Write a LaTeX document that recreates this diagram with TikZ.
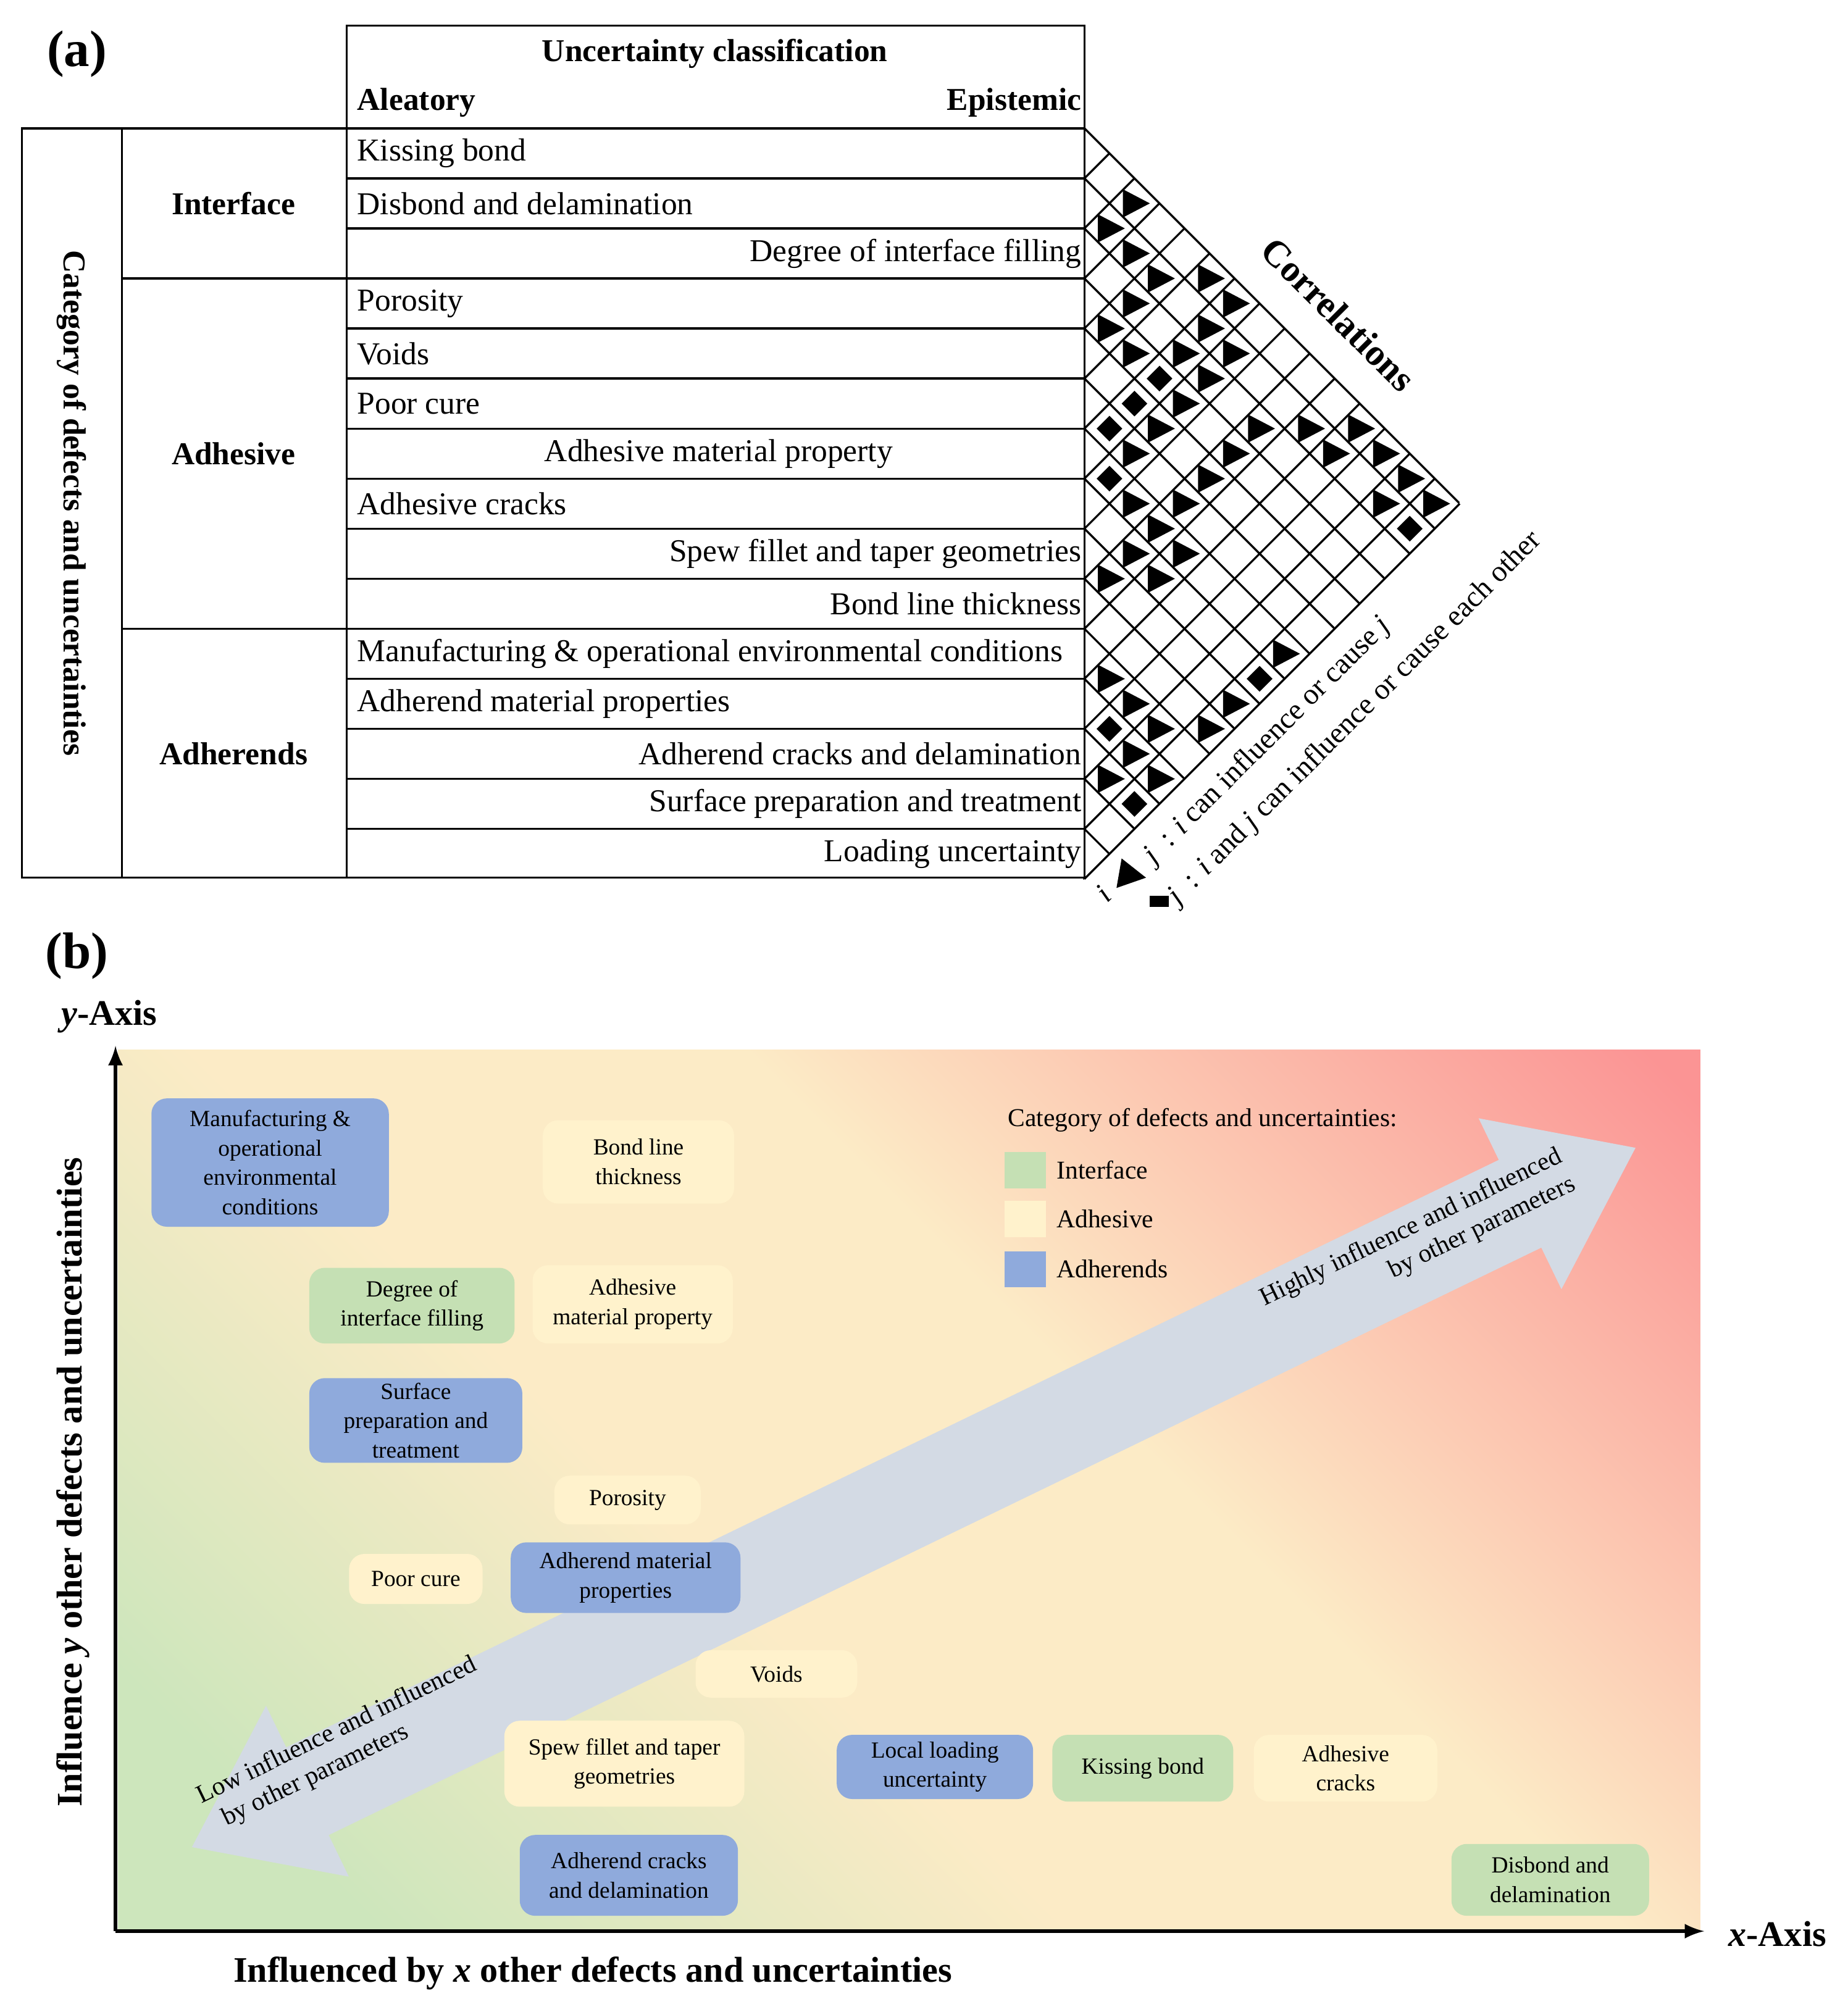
\documentclass[tikz,border=0pt]{standalone}
\usepackage{fontspec}
\setmainfont{Liberation Serif}
\definecolor{adherends}{HTML}{8FAADC}
\definecolor{interface}{HTML}{C5E0B4}
\definecolor{adhesive}{HTML}{FFF2CC}
\definecolor{bgA}{HTML}{CDE6BC}
\definecolor{bgB}{HTML}{FCEBC6}
\definecolor{bgC}{HTML}{FB9494}
\definecolor{arrowgray}{HTML}{D3DAE4}
\pgfdeclarehorizontalshading{bgshade}{100bp}{color(0bp)=(bgA); color(22bp)=(bgA); color(42bp)=(bgB); color(58bp)=(bgB); color(84bp)=(bgC); color(100bp)=(bgC)}
\begin{document}
\begin{tikzpicture}[x=0.5pt,y=-0.5pt]
\tikzstyle{row}=[font=\fontsize{12.4}{14}\selectfont,inner sep=0pt]
\tikzstyle{group}=[font=\fontsize{12.4}{14}\selectfont\bfseries,inner sep=0pt]
\tikzstyle{box}=[rounded corners=6pt,inner sep=1pt,align=center,font=\fontsize{9}{11.5}\selectfont]
\tikzstyle{swatch}=[minimum width=16pt,minimum height=14pt,inner sep=0pt]
\tikzstyle{legtext}=[font=\fontsize{10}{12}\selectfont,anchor=west,inner sep=0pt]
\tikzstyle{axislab}=[font=\fontsize{14}{16}\selectfont\bfseries]
\useasboundingbox (0,0) rectangle (1440,1568);

% (a) table
\node[font=\fontsize{20}{22}\selectfont\bfseries] (pa) at (60,42) {(a)};
\draw[line width=0.8pt] (270,20) rectangle (845,100);
\node[group] (uc) at (557,42) {Uncertainty classification};
\node[group,anchor=west] (alea) at (278,80) {Aleatory};
\node[group,anchor=east] (epis) at (843,80) {Epistemic};
\draw[line width=0.8pt] (17,100) rectangle (845,684);
\draw[line width=0.8pt] (95,100) -- (95,684) (270,100) -- (270,684);
\draw[line width=0.8pt] (95,217) -- (845,217) (95,490) -- (845,490);
\foreach \k in {1,...,14} \draw[line width=0.8pt] (270,{100+39*\k}) -- (845,{100+39*\k});
\node[group,rotate=-90] (cat) at (56,392) {Category of defects and uncertainties};
\node[group] (gint) at (182,158.5) {Interface};
\node[group] (gadh) at (182,353.5) {Adhesive};
\node[group] (gadr) at (182,587.5) {Adherends};
\node[row,anchor=west] (r1) at (278,119.5) {Kissing bond};
\node[row,anchor=west] (r2) at (278,158.5) {Disbond and delamination};
\node[row,anchor=east] (r3) at (843,197.5) {Degree of interface filling};
\node[row,anchor=west] (r4) at (278,236.5) {Porosity};
\node[row,anchor=west] (r5) at (278,275.5) {Voids};
\node[row,anchor=west] (r6) at (278,314.5) {Poor cure};
\node[row] (r7) at (560,353.5) {Adhesive material property};
\node[row,anchor=west] (r8) at (278,392.5) {Adhesive cracks};
\node[row,anchor=east] (r9) at (843,431.5) {Spew fillet and taper geometries};
\node[row,anchor=east] (r10) at (843,470.5) {Bond line thickness};
\node[row,anchor=west] (r11) at (278,509.5) {Manufacturing \& operational environmental conditions};
\node[row,anchor=west] (r12) at (278,548.5) {Adherend material properties};
\node[row,anchor=east] (r13) at (843,587.5) {Adherend cracks and delamination};
\node[row,anchor=east] (r14) at (843,626.5) {Surface preparation and treatment};
\node[row,anchor=east] (r15) at (843,665.5) {Loading uncertainty};

% correlation triangle
\foreach \k in {0,...,15} {
  \draw[line width=0.8pt] (845,{100+39*\k}) -- ++({(584-39*\k)/2},{(584-39*\k)/2});
  \draw[line width=0.8pt] (845,{100+39*\k}) -- ++({39*\k/2},{-39*\k/2});
}
\foreach \i/\j in {1/3,2/3,2/4,2/5,1/6,3/5,1/7,4/5,2/7,4/6,3/7,2/8,3/8,4/8,5/8,3/10,2/11,1/12,6/8,4/10,2/12,5/10,1/14,7/9,6/10,1/13,2/14,1/15,7/10,8/10,7/11,9/10,8/11,7/15,11/12,11/13,9/15,11/14,10/15,12/14,13/14,12/15}
  \fill ({845+(\j-\i)*19.5},{100+19.5*(\i+\j-1)}) ++(-9,-11) -- ++(21,11) -- ++(-21,11) -- cycle;
\foreach \i/\j in {4/7,5/7,6/7,7/8,2/15,8/15,12/13,13/15}
  \fill ({845+(\j-\i)*19.5},{100+19.5*(\i+\j-1)}) ++(-10,0) -- ++(10,-10) -- ++(10,10) -- ++(-10,10) -- cycle;
\node[font=\fontsize{14.5}{16}\selectfont\bfseries,rotate=-45] (corr) at (1043,245) {Correlations};
\node[legtext,font=\fontsize{11.5}{13}\selectfont,rotate=45] (li) at (857,699) {\textit{i}};
\fill (874,669) -- (893,684) -- (870,692) -- cycle;
\node[legtext,font=\fontsize{11.5}{13}\selectfont,rotate=45] (lj1) at (895,670) {\textit{j}\ \ : \textit{i} can influence or cause \textit{j}};
\fill (896,698) rectangle (911,707);
\node[legtext,font=\fontsize{11.5}{13}\selectfont,rotate=45] (lj2) at (914,702) {\textit{j}\ \ : \textit{i} and \textit{j} can influence or cause each other};

% (b) plot
\node[font=\fontsize{20}{22}\selectfont\bfseries] (pb) at (60,745) {(b)};
\shade[shading=bgshade,shading angle=45] (92,818) rectangle (1325,1505);
\coordinate (O) at (90,1505);
\coordinate (ytop) at (90,815);
\coordinate (xend) at (1328,1505);
\draw[line width=1.6pt,-latex] (O) -- (ytop);
\draw[line width=1.6pt,-latex] (O) -- (xend);
\node[axislab] (ylab) at (85,792) {\textit{y}-Axis};
\node[axislab] (xlab) at (1385,1507) {\textit{x}-Axis};
\node[axislab,rotate=90] (yax) at (57,1155) {Influence \textit{y} other defects and uncertainties};
\node[axislab] (xax) at (462,1538) {Influenced by \textit{x} other defects and uncertainties};

% double arrow
\begin{scope}[shift={(712,1167)},rotate=25.85]
\fill[arrowgray] (-625,0) -- (-525,-74) -- (-525,-38) -- (525,-38) -- (525,-74) -- (625,0) -- (525,74) -- (525,38) -- (-525,38) -- (-525,74) -- cycle;
\end{scope}
\node[font=\fontsize{10}{12}\selectfont,align=right,rotate=25.85] (hi) at (1105,968) {Highly influence and influenced\\by other parameters};
\node[font=\fontsize{10}{12}\selectfont,align=left,rotate=25.85] (lo) at (268,1360) {Low influence and influenced\\\ \ by other parameters};

% legend
\node[font=\fontsize{10}{12}\selectfont,anchor=west,inner sep=0pt] (legt) at (785,873) {Category of defects and uncertainties:};
\node[swatch,fill=interface] (s1) at (799,912) {};
\node[swatch,fill=adhesive] (s2) at (799,950) {};
\node[swatch,fill=adherends] (s3) at (799,989) {};
\node[legtext] (t1) at (823,912) {Interface};
\node[legtext] (t2) at (823,950) {Adhesive};
\node[legtext] (t3) at (823,989) {Adherends};

% boxes
\node[box,fill=adherends,minimum width=92.5pt,minimum height=50pt] (b1) at (210.5,906) {Manufacturing \&\\operational\\environmental\\conditions};
\node[box,fill=adhesive,minimum width=74.5pt,minimum height=32.5pt] (b2) at (497.5,905.5) {Bond line\\thickness};
\node[box,fill=interface,minimum width=80pt,minimum height=29.5pt] (b3) at (321,1017.5) {Degree of\\interface filling};
\node[box,fill=adhesive,minimum width=78pt,minimum height=30.5pt] (b4) at (493,1016.5) {Adhesive\\material property};
\node[box,fill=adherends,minimum width=83pt,minimum height=33pt] (b5) at (324,1107) {Surface\\preparation and\\treatment};
\node[box,fill=adhesive,minimum width=57pt,minimum height=19pt] (b6) at (489,1169) {Porosity};
\node[box,fill=adhesive,minimum width=52pt,minimum height=19.5pt] (b7) at (324,1230.5) {Poor cure};
\node[box,fill=adherends,minimum width=89.5pt,minimum height=27.5pt] (b8) at (487.5,1229.5) {Adherend material\\properties};
\node[box,fill=adhesive,minimum width=63pt,minimum height=18.5pt] (b9) at (605,1304.5) {Voids};
\node[box,fill=adhesive,minimum width=93.5pt,minimum height=33.5pt] (b10) at (486.5,1374.5) {Spew fillet and taper\\geometries};
\node[box,fill=adherends,minimum width=76.5pt,minimum height=25pt] (b11) at (728.5,1377) {Local loading\\uncertainty};
\node[box,fill=interface,minimum width=70.5pt,minimum height=26pt] (b12) at (890.5,1378) {Kissing bond};
\node[box,fill=adhesive,minimum width=71.5pt,minimum height=26pt] (b13) at (1048.5,1378) {Adhesive\\cracks};
\node[box,fill=adherends,minimum width=85pt,minimum height=31.5pt] (b14) at (490,1461.5) {Adherend cracks\\and delamination};
\node[box,fill=interface,minimum width=77pt,minimum height=28pt] (b15) at (1208,1465) {Disbond and\\delamination};
\end{tikzpicture}
\end{document}
